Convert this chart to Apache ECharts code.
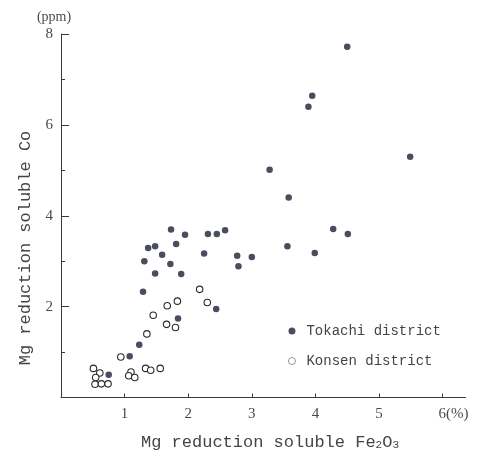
<!DOCTYPE html>
<html>
<head>
<meta charset="utf-8">
<script src="https://cdn.jsdelivr.net/npm/echarts@6/dist/echarts.min.js"></script>
<style>
  html, body { margin: 0; padding: 0; background: #fff; }
  #chart { width: 477px; height: 458px; }
</style>
</head>
<body>
<div id="chart"></div>
<script>
// Mg-reduction soluble Fe2O3 (%) vs Mg-reduction soluble Co (ppm)
const tokachiFe = [0.75, 1.08, 1.23, 1.29, 1.31, 1.37, 1.48, 1.48, 1.59, 1.72, 1.73, 1.81, 1.89, 1.95, 1.84,
                   2.25, 2.31, 2.44, 2.45, 2.58, 2.77, 2.79, 3.00, 3.28, 3.56, 3.58, 3.89, 3.95, 3.99, 4.28,
                   4.51, 4.50, 5.49];
const tokachiCo = [0.50, 0.91, 1.16, 2.33, 3.00, 3.29, 3.33, 2.73, 3.14, 2.94, 3.70, 3.38, 2.72, 3.58, 1.74,
                   3.17, 3.60, 1.95, 3.60, 3.68, 3.12, 2.89, 3.09, 5.01, 3.33, 4.40, 6.40, 6.64, 3.18, 3.71,
                   3.60, 7.72, 5.30];
const konsenFe = [0.51, 0.61, 0.545, 0.535, 0.635, 0.74, 0.94, 1.10, 1.065, 1.16, 1.33, 1.41, 1.56,
                  1.35, 1.45, 1.66, 1.67, 1.80, 1.83, 2.18, 2.30];
const konsenCo = [0.64, 0.54, 0.44, 0.29, 0.30, 0.30, 0.89, 0.56, 0.48, 0.44, 0.64, 0.60, 0.64,
                  1.40, 1.81, 1.61, 2.02, 1.54, 2.12, 2.38, 2.09];
const xTicks = [1, 2, 3, 4, 5, 6];
const seriesNames = ['Tokachi district', 'Konsen district'];

const pairs = (xs, ys) => xs.map((x, i) => [x, ys[i]]);

const ink = '#3a3a3a';
const serif = '"Liberation Serif", "DejaVu Serif", serif';
const mono = '"Liberation Mono", "DejaVu Sans Mono", monospace';

const chart = echarts.init(document.getElementById('chart'), null, { renderer: 'canvas' });
chart.setOption({
  animation: false,
  backgroundColor: '#fff',
  grid: { left: 61, top: 34, right: 11.5, bottom: 60.5, containLabel: false },
  xAxis: {
    type: 'value', min: 0, max: 6.36,
    axisLine: { lineStyle: { color: ink, width: 1 } },
    axisTick: { inside: true, length: 4, customValues: xTicks, lineStyle: { color: ink } },
    splitLine: { show: false },
    axisLabel: {
      customValues: xTicks,
      margin: 9,
      color: '#4a4a4a',
      fontFamily: serif,
      fontSize: 15,
      formatter: v => (v === 6 ? '{pad|}6(%)' : String(v)),
      rich: { pad: { width: 22 } }
    }
  },
  yAxis: {
    type: 'value', min: 0, max: 8, interval: 2,
    axisLine: { show: true, onZero: false, lineStyle: { color: ink, width: 1 } },
    axisTick: { show: true, inside: true, length: 8, lineStyle: { color: ink } },
    minorTick: { show: true, splitNumber: 2, length: 4, lineStyle: { color: ink } },
    splitLine: { show: false },
    minorSplitLine: { show: false },
    axisLabel: {
      margin: 8,
      color: '#4a4a4a',
      fontFamily: serif,
      fontSize: 15,
      formatter: v => (v === 0 ? '' : String(v))
    }
  },
  legend: {
    orient: 'vertical',
    left: 283, top: 319,
    itemWidth: 7, itemHeight: 7, itemGap: 16,
    data: [
      { name: seriesNames[0] },
      { name: seriesNames[1], itemStyle: { color: '#fff', borderColor: '#8a8a8a', borderWidth: 0.9 } }
    ],
    textStyle: { fontFamily: mono, fontSize: 14, color: '#444', padding: [0, 0, 0, 6] }
  },
  series: [
    {
      name: seriesNames[0],
      type: 'scatter',
      symbol: 'circle',
      symbolSize: 6.5,
      itemStyle: { color: '#1b2236' },
      data: pairs(tokachiFe, tokachiCo)
    },
    {
      name: seriesNames[1],
      type: 'scatter',
      symbol: 'circle',
      symbolSize: 6.5,
      itemStyle: { color: '#ffffff', borderColor: '#2a2a2a', borderWidth: 1.1, opacity: 1 },
      data: pairs(konsenFe, konsenCo)
    }
  ],
  graphic: [
    {
      type: 'text', x: 54, y: 17,
      style: { text: '(ppm)', fontFamily: serif, fontSize: 14, fill: '#4a4a4a', align: 'center', verticalAlign: 'middle' }
    },
    {
      type: 'text', x: 25, y: 248, rotation: Math.PI / 2,
      style: { text: 'Mg reduction soluble Co', fontFamily: mono, fontSize: 17, fill: '#444', align: 'center', verticalAlign: 'middle' }
    },
    {
      type: 'text', x: 270, y: 442,
      style: {
        text: 'Mg reduction soluble Fe{s|2}O{s|3}',
        fontFamily: mono, fontSize: 17, fill: '#444', align: 'center', verticalAlign: 'middle',
        rich: { s: { fontFamily: mono, fontSize: 11, fill: '#444', padding: [6, 0, 0, 0] } }
      }
    }
  ]
});
</script>
</body>
</html>
